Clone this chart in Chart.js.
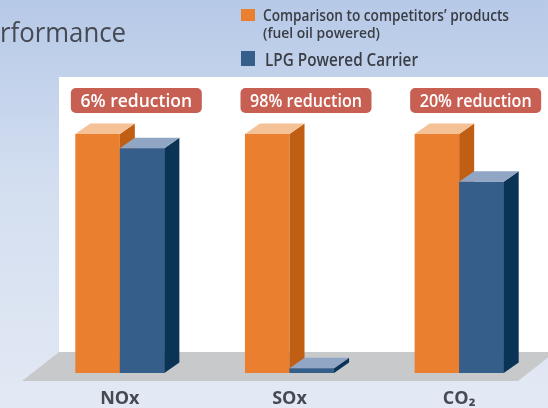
<!DOCTYPE html>
<html>
<head>
<meta charset="utf-8">
<script src="https://cdn.jsdelivr.net/npm/chart.js@4"></script>
<style>
  html, body { margin: 0; padding: 0; }
  #wrap { width: 548px; height: 408px; position: relative; }
</style>
</head>
<body>
<div id="wrap"><canvas id="emissionChart"></canvas></div>
<script>
const categories = ['NOx', 'SOx', 'CO\u2082'];
const competitorValues = [100, 100, 100];
const lpgValues = [94, 2, 80];
const reductionLabels = ['6% reduction', '98% reduction', '20% reduction'];
const seriesNames = ["Comparison to competitors\u2019 products", 'LPG Powered Carrier'];

const FONT = '"Open Sans", "DejaVu Sans", sans-serif';
const DX = 15, DY = 10.5;

const faces = [
  { front: '#eb7f30', side: '#c05e14', top: '#f5c196' },
  { front: '#355e8a', side: '#0b3356', top: '#91a6c4' }
];

function poly(ctx, pts, color) {
  ctx.beginPath();
  ctx.moveTo(pts[0][0], pts[0][1]);
  for (let i = 1; i < pts.length; i++) ctx.lineTo(pts[i][0], pts[i][1]);
  ctx.closePath();
  ctx.fillStyle = color;
  ctx.fill();
}

function roundRect(ctx, x, y, w, h, r) {
  ctx.beginPath();
  ctx.moveTo(x + r, y);
  ctx.arcTo(x + w, y, x + w, y + h, r);
  ctx.arcTo(x + w, y + h, x, y + h, r);
  ctx.arcTo(x, y + h, x, y, r);
  ctx.arcTo(x, y, x + w, y, r);
  ctx.closePath();
}

const scenePlugin = {
  id: 'scene',
  beforeDraw(chart) {
    const ctx = chart.ctx;
    const w = chart.width, h = chart.height;
    ctx.save();
    // page background
    const g = ctx.createLinearGradient(0, 0, 0, h);
    g.addColorStop(0, '#b6c9e7');
    g.addColorStop(0.45, '#d3def0');
    g.addColorStop(1, '#e3e9f4');
    ctx.fillStyle = g;
    ctx.fillRect(0, 0, w, h);
    // white panel
    ctx.fillStyle = '#ffffff';
    ctx.fillRect(59, 77, w - 59, 352 - 77);

    // title (cut off at left edge)
    ctx.fillStyle = '#454a52';
    ctx.font = '28px ' + FONT;
    ctx.textBaseline = 'alphabetic';
    ctx.textAlign = 'left';
    ctx.fillText('rformance', 0, 42, 126);

    // legend
    ctx.fillStyle = faces[0].front;
    ctx.fillRect(241, 9, 14, 12);
    ctx.fillStyle = faces[1].front;
    ctx.fillRect(241, 51, 14, 15);
    ctx.fillStyle = '#3a3d44';
    ctx.font = '600 17px ' + FONT;
    ctx.fillText(seriesNames[0], 263, 21, 246);
    ctx.font = '600 15px ' + FONT;
    ctx.fillText('(fuel oil powered)', 263, 38, 117);
    ctx.font = '600 18px ' + FONT;
    ctx.fillText(seriesNames[1], 265, 65.5, 153);
    ctx.restore();
  },
  beforeDatasetsDraw(chart) {
    const ctx = chart.ctx;
    ctx.save();
    poly(ctx, [[22, 381], [59, 352], [555, 352], [518, 381]], '#c8c9cb');
    ctx.restore();
  },
  afterDatasetsDraw(chart) {
    const ctx = chart.ctx;
    ctx.save();
    chart.data.datasets.forEach((ds, di) => {
      const meta = chart.getDatasetMeta(di);
      const c = faces[di];
      meta.data.forEach(bar => {
        const p = bar.getProps(['x', 'y', 'base', 'width'], true);
        const l = p.x - p.width / 2, r = p.x + p.width / 2;
        const t = p.y, b = p.base;
        if (di > 0) poly(ctx, [[l, t], [r, t], [r, b], [l, b]], c.front);
        poly(ctx, [[r, t], [r + DX, t - DY], [r + DX, b - DY], [r, b]], c.side);
        poly(ctx, [[l, t], [l + DX, t - DY], [r + DX, t - DY], [r, t]], c.top);
      });
    });

    const xs = chart.scales.x;
    categories.forEach((cat, i) => {
      const cx = xs.getPixelForValue(i);
      // reduction pill
      const pw = 131, ph = 25;
      const px = cx + 16.5 - pw / 2;
      roundRect(ctx, px, 88, pw, ph, 5);
      ctx.fillStyle = '#c75f53';
      ctx.fill();
      ctx.fillStyle = '#ffffff';
      ctx.font = '600 17.5px ' + FONT;
      ctx.textAlign = 'center';
      ctx.textBaseline = 'alphabetic';
      ctx.fillText(reductionLabels[i], cx + 16.5, 107, 112);
      // category label
      ctx.fillStyle = '#454a52';
      ctx.font = '700 18px ' + FONT;
      ctx.fillText(cat, cx, 404);
    });
    ctx.restore();
  }
};

new Chart(document.getElementById('emissionChart'), {
  type: 'bar',
  data: {
    labels: categories,
    datasets: [
      { label: seriesNames[0], data: competitorValues, backgroundColor: faces[0].front },
      { label: seriesNames[1], data: lpgValues, backgroundColor: faces[1].front }
    ]
  },
  options: {
    responsive: true,
    maintainAspectRatio: false,
    animation: false,
    layout: { padding: { top: 134, bottom: 35, left: 35, right: 4 } },
    datasets: { bar: { categoryPercentage: 0.525, barPercentage: 1, borderWidth: 0 } },
    scales: {
      x: { display: false, offset: true },
      y: { display: false, min: 0, max: 100 }
    },
    plugins: { legend: { display: false }, tooltip: { enabled: false } }
  },
  plugins: [scenePlugin]
});
</script>
</body>
</html>
